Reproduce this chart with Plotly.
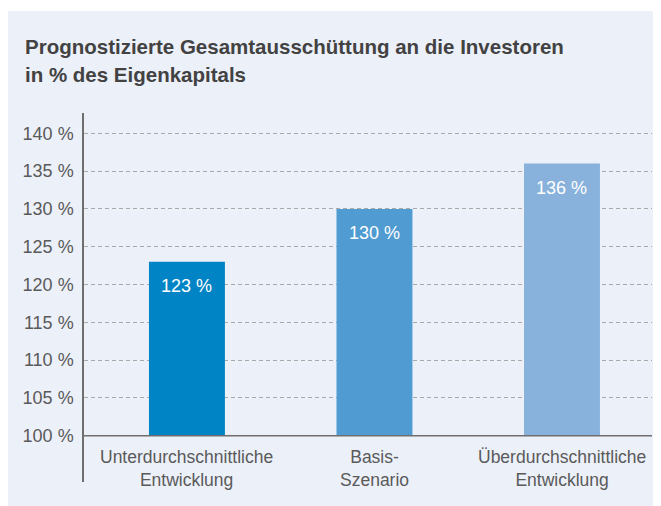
import plotly.graph_objects as go

categories = ["Unterdurchschnittliche<br>Entwicklung", "Basis-<br>Szenario", "Überdurchschnittliche<br>Entwicklung"]
values = [123, 130, 136]
bar_labels = ["123 %", "130 %", "136 %"]
colors = ["#0084c5", "#4f9bd2", "#88b2dc"]
y_ticks = [100, 105, 110, 115, 120, 125, 130, 135, 140]
y_tick_labels = ["100 %", "105 %", "110 %", "115 %", "120 %", "125 %", "130 %", "135 %", "140 %"]
title_lines = ["Prognostizierte Gesamtausschüttung an die Investoren", "in % des Eigenkapitals"]
baseline = 100

PANEL = "#ecf0f9"
FONT = "Liberation Sans"

# page has an 8px body margin; figure coords = page coords - 8
OFF = 8
W, H = 653, 498
ml, mr, mt, mb = 76, 9, 105, 24
pw = W - ml - mr
ph = H - mt - mb

x_idx = list(range(len(categories)))

fig = go.Figure()
fig.add_trace(go.Bar(
    x=x_idx,
    y=[v - baseline for v in values],
    base=[baseline] * len(values),
    marker=dict(color=colors, line=dict(width=0)),
    width=0.405,
    hoverinfo="skip",
))

annotations = []
for i, (v, lab) in enumerate(zip(values, bar_labels)):
    annotations.append(dict(x=i, y=v, xref="x", yref="y", text=lab, showarrow=False,
                            yanchor="middle", yshift=-24,
                            font=dict(family=FONT, size=18, color="#ffffff")))
for i, c in enumerate(categories):
    annotations.append(dict(x=i, y=baseline, xref="x", yref="y", text=c, showarrow=False,
                            yanchor="top", yshift=-9, align="center",
                            font=dict(family=FONT, size=17.5, color="#5a5a5a")))


def px_to_paper_x(px):
    return (px - OFF - ml) / pw


def py_to_paper_y(py):
    return (H - mb - (py - OFF)) / ph


annotations.append(dict(x=px_to_paper_x(23), y=py_to_paper_y(47), xref="paper", yref="paper",
                        text="<b>" + title_lines[0] + "</b>", showarrow=False, xanchor="left", yanchor="middle",
                        font=dict(family=FONT, size=20.5, color="#424242")))
annotations.append(dict(x=px_to_paper_x(23), y=py_to_paper_y(74), xref="paper", yref="paper",
                        text="<b>" + title_lines[1] + "</b>", showarrow=False, xanchor="left", yanchor="middle",
                        font=dict(family=FONT, size=20.5, color="#424242")))

shapes = [
    # white strip above the panel
    dict(type="rect", xref="paper", yref="paper", x0=px_to_paper_x(0), x1=px_to_paper_x(700),
         y0=py_to_paper_y(11), y1=py_to_paper_y(0), fillcolor="#ffffff", line=dict(width=0), layer="below"),
    # baseline
    dict(type="line", xref="paper", yref="y", x0=0, x1=1, y0=baseline, y1=baseline,
         line=dict(color="#6e6e6e", width=1.5), layer="above"),
]

fig.update_layout(
    width=W, height=H,
    margin=dict(l=ml, r=mr, t=mt, b=mb),
    paper_bgcolor=PANEL, plot_bgcolor=PANEL,
    showlegend=False,
    annotations=annotations,
    shapes=shapes,
    xaxis=dict(range=[-0.549, 2.48], showticklabels=False, showgrid=False, zeroline=False,
               showline=False, fixedrange=True),
    yaxis=dict(range=[93.88, 142.69], tickvals=y_ticks, ticktext=y_tick_labels,
               showgrid=True, gridcolor="#a9a9a9", gridwidth=1, griddash="4px,3px",
               zeroline=False, showline=True, linecolor="#6e6e6e", linewidth=1.5,
               ticks="", ticklabelstandoff=5,
               tickfont=dict(family=FONT, size=18, color="#5a5a5a"), fixedrange=True),
)

fig.write_html("out.html")
